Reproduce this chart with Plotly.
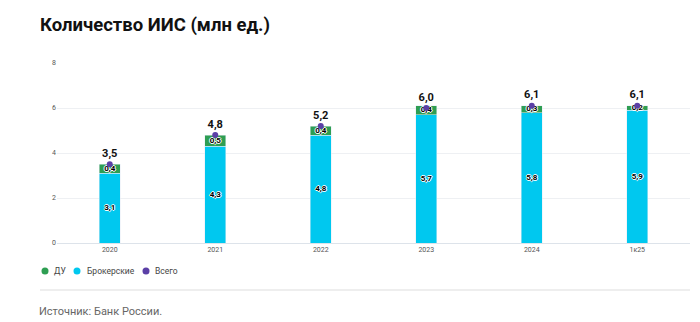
import plotly.graph_objects as go

categories = ["2020", "2021", "2022", "2023", "2024", "1к25"]
broker = [3.1, 4.3, 4.8, 5.7, 5.8, 5.9]
du = [0.4, 0.5, 0.4, 0.4, 0.3, 0.2]
total = [3.5, 4.8, 5.2, 6.0, 6.1, 6.1]
y_ticks = [0, 2, 4, 6, 8]
legend_names = ["ДУ", "Брокерские", "Всего"]

C_BROKER = "#00C8EF"
C_DU = "#2E9E52"
C_TOTAL = "#5B3FA6"
legend_colors = [C_DU, C_BROKER, C_TOTAL]

W, H = 700, 322
L, R, T, B = 57, 10, 63, 79
PW, PH = W - L - R, H - T - B

def px(x):
    return (x - L) / PW

def py(y):
    return (H - B - y) / PH

def fmt(v):
    return f"{v:.1f}".replace(".", ",")

fig = go.Figure()
fig.add_trace(go.Bar(x=categories, y=broker, marker_color=C_BROKER, width=0.2,
                     name="Брокерские", showlegend=False, hoverinfo="skip"))
fig.add_trace(go.Bar(x=categories, y=du, marker_color=C_DU, width=0.2,
                     name="ДУ", showlegend=False, hoverinfo="skip"))

halo = "1px 0 0 white, -1px 0 0 white, 0 1px 0 white, 0 -1px 0 white"
small_font = dict(size=8, color="#000", family="Roboto", weight="bold", shadow=halo)
fig.add_trace(go.Scatter(x=categories, y=[b / 2 for b in broker], mode="text",
                         text=[fmt(b) for b in broker], textfont=small_font,
                         showlegend=False, hoverinfo="skip"))
fig.add_trace(go.Scatter(x=categories, y=[b + d / 2 for b, d in zip(broker, du)], mode="text",
                         text=[fmt(d) for d in du], textfont=small_font,
                         showlegend=False, hoverinfo="skip"))
fig.add_trace(go.Scatter(x=categories, y=total, mode="markers+text", name="Всего",
                         marker=dict(color=C_TOTAL, size=6),
                         text=[fmt(t) for t in total], textposition="top center",
                         textfont=dict(size=11, color="#111", family="Roboto", weight="bold"),
                         showlegend=False, hoverinfo="skip"))

fig.update_layout(
    width=W, height=H,
    margin=dict(l=L, r=R, t=T, b=B),
    barmode="stack",
    plot_bgcolor="white", paper_bgcolor="white",
    font=dict(family="Roboto", color="#444"),
    showlegend=False,
    xaxis=dict(tickfont=dict(size=7, color="#555"), showline=True, linecolor="#dde3ea",
               linewidth=1, ticks="", fixedrange=True),
    yaxis=dict(range=[0, 8], tickvals=y_ticks, tickfont=dict(size=7, color="#555"),
               gridcolor="#eef0f3", zeroline=False, ticks="", fixedrange=True),
    title=dict(text="<b>Количество ИИС (млн ед.)</b>", x=40 / W, xanchor="left",
               y=1 - 25 / H, yanchor="middle", font=dict(size=18.5, color="#111", family="Roboto")),
)

# custom legend (round markers, tight spacing)
dot_x = [45, 77, 146]
txt_x = [53, 86, 154]
ly = 271
for name, col, dx, tx in zip(legend_names, legend_colors, dot_x, txt_x):
    r = 3.5
    fig.add_shape(type="circle", xref="paper", yref="paper",
                  x0=px(dx - r), x1=px(dx + r), y0=py(ly + r), y1=py(ly - r),
                  fillcolor=col, line=dict(width=0))
    fig.add_annotation(text=name, xref="paper", yref="paper", x=px(tx), xanchor="left",
                       y=py(ly), yanchor="middle", showarrow=False, borderpad=0,
                       font=dict(size=8.5, color="#444", family="Roboto"))

fig.add_shape(type="line", xref="paper", yref="paper",
              x0=px(40), x1=px(690), y0=py(290), y1=py(290),
              line=dict(color="#eeeeee", width=2))
fig.add_annotation(text="Источник: Банк России.", xref="paper", yref="paper",
                   x=px(38), xanchor="left", y=py(311), yanchor="middle", borderpad=0,
                   showarrow=False, font=dict(size=11, color="#666", family="Roboto"))

fig.write_html("out.html")
